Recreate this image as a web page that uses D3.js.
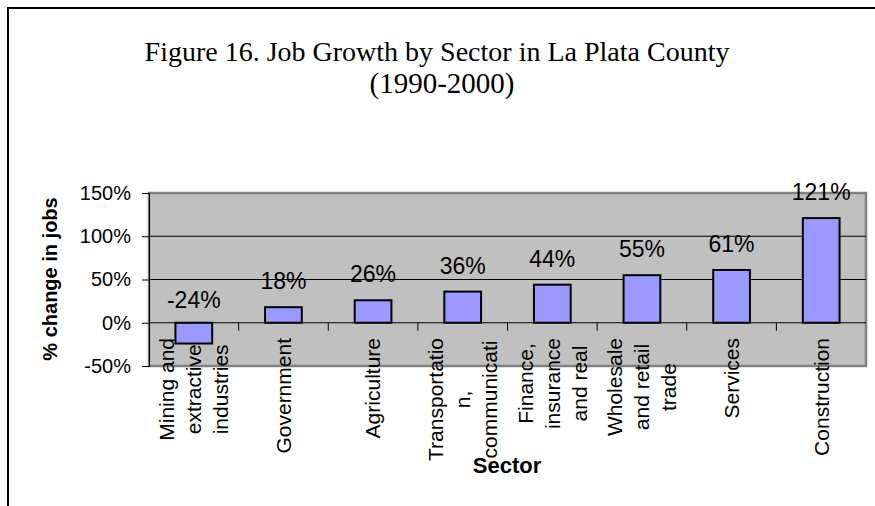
<!DOCTYPE html>
<html>
<head>
<meta charset="utf-8">
<script src="https://cdn.jsdelivr.net/npm/d3@7"></script>
<style>
  body { margin: 0; background: #fff; }
  svg { display: block; }
</style>
</head>
<body>
<div id="chart"></div>
<script>
// data
let sectors = [
    ['Mining and', 'extractive', 'industries'],
    ['Government'],
    ['Agriculture'],
    ['Transportatio', 'n,', 'communicati'],
    ['Finance,', 'insurance', 'and real'],
    ['Wholesale', 'and retail', 'trade'],
    ['Services'],
    ['Construction']
];
let growth = [-0.24, 0.18, 0.26, 0.36, 0.44, 0.55, 0.61, 1.21];
let valueLabels = ['-24%', '18%', '26%', '36%', '44%', '55%', '61%', '121%'];
let yTicks = [-0.5, 0, 0.5, 1, 1.5];
let yTickLabels = ['-50%', '0%', '50%', '100%', '150%'];

let totalWidth = 875;
let totalHeight = 506;
let plot = { left: 149, top: 193, right: 866, bottom: 366 };

let svg = d3.select("#chart").append("svg")
    .attr("width", totalWidth)
    .attr("height", totalHeight);

// outer frame
svg.append("rect")
    .attr("x", 8).attr("y", 8)
    .attr("width", 900).attr("height", 600)
    .attr("fill", "none")
    .attr("stroke", "#000")
    .attr("stroke-width", 2);

// title
svg.append("text")
    .attr("x", 437).attr("y", 61)
    .attr("text-anchor", "middle")
    .style("font-family", "'Liberation Serif', 'Times New Roman', serif")
    .style("font-size", "28px")
    .text("Figure 16. Job Growth by Sector in La Plata County");
svg.append("text")
    .attr("x", 442).attr("y", 93)
    .attr("text-anchor", "middle")
    .style("font-family", "'Liberation Serif', 'Times New Roman', serif")
    .style("font-size", "29px")
    .text("(1990-2000)");

let x = d3.scaleBand()
    .domain(d3.range(sectors.length))
    .range([plot.left, plot.right])
    .padding(0);
let y = d3.scaleLinear()
    .domain([-0.5, 1.5])
    .range([plot.bottom, plot.top]);

// plot area
svg.append("rect")
    .attr("x", plot.left).attr("y", plot.top)
    .attr("width", plot.right - plot.left)
    .attr("height", plot.bottom - plot.top)
    .attr("fill", "#C0C0C0")
    .attr("stroke", "#808080")
    .attr("stroke-width", 2.5);

// gridlines
svg.append("g")
    .selectAll("line")
    .data([0.5, 1])
    .enter().append("line")
    .attr("x1", plot.left).attr("x2", plot.right)
    .attr("y1", d => y(d)).attr("y2", d => y(d))
    .attr("stroke", "#000")
    .attr("stroke-width", 1);

// y axis
let yAxis = svg.append("g")
    .attr("transform", "translate(" + plot.left + ",0)")
    .call(d3.axisLeft(y).tickValues(yTicks).tickSize(7).tickPadding(11)
        .tickFormat((d, i) => yTickLabels[i]));
yAxis.select(".domain").attr("stroke", "#000");
yAxis.selectAll("text")
    .style("font-family", "Arial, 'Liberation Sans', sans-serif")
    .style("font-size", "20px")
    .style("fill", "#000");

// bars
let barW = x.bandwidth() * 0.41;
svg.append("g")
    .selectAll("rect")
    .data(growth)
    .enter().append("rect")
    .attr("x", (d, i) => x(i) + x.bandwidth() / 2 - barW / 2)
    .attr("y", d => y(Math.max(d, 0)))
    .attr("width", barW)
    .attr("height", d => Math.abs(y(d) - y(0)))
    .attr("fill", "#9999FF")
    .attr("stroke", "#000")
    .attr("stroke-width", 2);

// zero line with category ticks
svg.append("line")
    .attr("x1", plot.left).attr("x2", plot.right)
    .attr("y1", y(0)).attr("y2", y(0))
    .attr("stroke", "#000")
    .attr("stroke-width", 1);
svg.append("g")
    .selectAll("line")
    .data(d3.range(1, sectors.length))
    .enter().append("line")
    .attr("x1", d => x(d)).attr("x2", d => x(d))
    .attr("y1", y(0)).attr("y2", y(0) + 8)
    .attr("stroke", "#000");

// value labels
svg.append("g")
    .selectAll("text")
    .data(growth)
    .enter().append("text")
    .attr("x", (d, i) => x(i) + x.bandwidth() / 2)
    .attr("y", d => d < 0 ? y(0) - 15 : y(d) - 18)
    .attr("text-anchor", "middle")
    .style("font-family", "Arial, 'Liberation Sans', sans-serif")
    .style("font-size", "23px")
    .style("fill", "#000")
    .text((d, i) => valueLabels[i]);

// category labels, rotated, lines centred on each other, block top-aligned
let catFont = "21px";
let linePitch = 27;
sectors.forEach(function(lines, i) {
    let cx = x(i) + x.bandwidth() / 2;
    let g = svg.append("g")
        .attr("transform", "translate(" + cx + ",338) rotate(-90)");
    let texts = g.selectAll("text")
        .data(lines)
        .enter().append("text")
        .attr("text-anchor", "middle")
        .attr("dy", "0.35em")
        .style("font-family", "Arial, 'Liberation Sans', sans-serif")
        .style("font-size", catFont)
        .style("fill", "#000")
        .text(d => d);
    let maxW = d3.max(texts.nodes(), n => n.getComputedTextLength());
    texts.attr("x", -maxW / 2)
        .attr("y", (d, j) => (j - (lines.length - 1) / 2) * linePitch);
});

// axis titles
svg.append("text")
    .attr("x", 507).attr("y", 473)
    .attr("text-anchor", "middle")
    .style("font-family", "Arial, 'Liberation Sans', sans-serif")
    .style("font-weight", "bold")
    .style("font-size", "22px")
    .text("Sector");

svg.append("text")
    .attr("transform", "translate(57,279) rotate(-90)")
    .attr("text-anchor", "middle")
    .style("font-family", "Arial, 'Liberation Sans', sans-serif")
    .style("font-weight", "bold")
    .style("font-size", "20px")
    .text("% change in jobs");
</script>
</body>
</html>
